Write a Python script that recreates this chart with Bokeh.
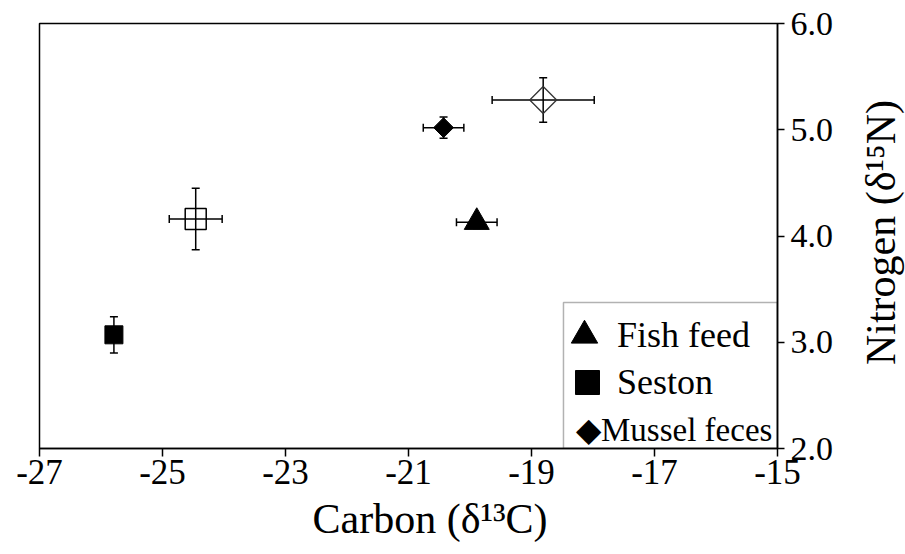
import numpy as np
from bokeh.plotting import figure
from bokeh.layouts import row
from bokeh.models import (ColumnDataSource, Range1d, FixedTicker, Whisker, TeeHead,
                          Legend, LegendItem, BoxAnnotation, Label, Title)
from bokeh.embed import file_html
from bokeh.resources import INLINE

# Stable isotope signatures: mean delta13C, mean delta15N and their SDs
feed_c, feed_n, feed_c_sd, feed_n_sd = [-19.89], [4.13], [0.33], [0.06]
seston_c, seston_n, seston_c_sd, seston_n_sd = [-25.79], [3.07], [0.08], [0.17]
feces_c, feces_n, feces_c_sd, feces_n_sd = [-20.43], [5.02], [0.33], [0.10]
open_sq_c, open_sq_n, open_sq_c_sd, open_sq_n_sd = [-24.46], [4.16], [0.43], [0.29]
open_dia_c, open_dia_n, open_dia_c_sd, open_dia_n_sd = [-18.81], [5.28], [0.83], [0.21]

x_ticks = [-27, -25, -23, -21, -19, -17, -15]
x_tick_labels = ["-27", "-25", "-23", "-21", "-19", "-17", "-15"]
y_ticks = [2, 3, 4, 5, 6]
y_tick_labels = ["2.0", "3.0", "4.0", "5.0", "6.0"]

x_title = "Carbon (δ¹³C)"
y_title = "Nitrogen (δ¹⁵N)"

FONT = "Liberation Serif"


def make_source(c, n, c_sd, n_sd):
    c, n, c_sd, n_sd = map(np.asarray, (c, n, c_sd, n_sd))
    return ColumnDataSource(dict(c=c, n=n, c_lo=c - c_sd, c_hi=c + c_sd,
                                 n_lo=n - n_sd, n_hi=n + n_sd))


p = figure(width=845, height=554, x_range=Range1d(-27, -15), y_range=Range1d(2, 6),
           y_axis_location="right", output_backend="svg", toolbar_location=None,
           min_border_left=39, min_border_right=68, min_border_top=23,
           min_border_bottom=106)
p.background_fill_color = "white"
p.border_fill_color = "white"
p.xgrid.visible = False
p.ygrid.visible = False
p.outline_line_color = "black"
p.outline_line_width = 1.5

for ax in (p.xaxis[0], p.yaxis[0]):
    ax.axis_line_width = 1.5
    ax.axis_line_color = "black"
    ax.major_tick_line_width = 1.5
    ax.major_tick_line_color = "black"
    ax.major_tick_in = 0
    ax.minor_tick_in = 0
    ax.minor_tick_out = 0
    ax.major_label_text_font = FONT
    ax.major_label_text_color = "black"

p.xaxis.ticker = FixedTicker(ticks=x_ticks)
p.xaxis.major_label_overrides = dict(zip(x_ticks, x_tick_labels))
p.xaxis.major_tick_out = 8
p.xaxis.major_label_standoff = 3
p.xaxis.major_label_text_font_size = "35px"

p.yaxis.ticker = FixedTicker(ticks=y_ticks)
p.yaxis.major_label_overrides = dict(zip(y_ticks, y_tick_labels))
p.yaxis.major_tick_out = 7
p.yaxis.major_label_standoff = 6
p.yaxis.major_label_text_font_size = "34px"

# x axis title, below the tick labels
p.add_layout(Title(text=x_title, align="left", offset=273, standoff=18,
                   vertical_align="top", text_font=FONT, text_font_size="42px",
                   text_font_style="normal", text_color="black"), "below")

groups = [
    (feed_c, feed_n, feed_c_sd, feed_n_sd),
    (seston_c, seston_n, seston_c_sd, seston_n_sd),
    (feces_c, feces_n, feces_c_sd, feces_n_sd),
    (open_sq_c, open_sq_n, open_sq_c_sd, open_sq_n_sd),
    (open_dia_c, open_dia_n, open_dia_c_sd, open_dia_n_sd),
]
src_feed, src_seston, src_feces, src_open_sq, src_open_dia = [make_source(*g) for g in groups]

# error bars (drawn underneath the markers)
for src in (src_feed, src_seston, src_feces, src_open_sq, src_open_dia):
    for base, lo, hi, dim in (("n", "c_lo", "c_hi", "width"), ("c", "n_lo", "n_hi", "height")):
        p.add_layout(Whisker(source=src, base=base, lower=lo, upper=hi, dimension=dim,
                             line_color="black", line_width=1.5,
                             lower_head=TeeHead(size=8, line_width=1.5, line_color="black"),
                             upper_head=TeeHead(size=8, line_width=1.5, line_color="black")))

r_feed = p.scatter("c", "n", source=src_feed, marker="triangle", size=25,
                   fill_color="black", line_color="black")
r_seston = p.scatter("c", "n", source=src_seston, marker="square", size=18,
                     fill_color="black", line_color="black")
r_feces = p.scatter("c", "n", source=src_feces, marker="square", angle=np.pi / 4, size=14,
                    fill_color="black", line_color="black")
p.scatter("c", "n", source=src_open_sq, marker="square", size=21,
          fill_color=None, line_color="black", line_width=1.5)
p.scatter("c", "n", source=src_open_dia, marker="square", angle=np.pi / 4, size=19,
          fill_color=None, line_color="#333333", line_width=1.3)

# legend frame
p.add_layout(BoxAnnotation(left=-18.48, right=-15, bottom=2, top=3.374,
                           fill_alpha=0, line_color="black", line_width=1.5))


def add_key(renderer, label, glyph_w, glyph_h, font_size, loc):
    lg = Legend(items=[LegendItem(label=label, renderers=[renderer])], location=loc,
                glyph_width=glyph_w, glyph_height=glyph_h, label_standoff=0,
                padding=0, margin=0, spacing=0, border_line_color=None,
                background_fill_alpha=0, label_text_font=FONT,
                label_text_font_size=font_size, label_text_color="black")
    p.add_layout(lg)


add_key(r_feed, "Fish feed", 66, 66, "36px", (512, 80))
add_key(r_seston, "Seston", 60, 60, "36px", (518, 36))
# the feces key is a diamond character written ahead of its label
add_key(r_feces, "◆Mussel feces", 0, 41, "33px", (537, -2))

# y axis title, reading upwards, in a narrow strip sharing the y range
side = figure(width=60, height=554, x_axis_type=None, y_axis_type=None,
              output_backend="svg", toolbar_location=None, min_border_left=0,
              min_border_right=0, min_border_top=23, min_border_bottom=106,
              x_range=Range1d(0, 60), y_range=p.y_range)
side.outline_line_color = None
side.background_fill_color = "white"
side.border_fill_color = "white"
side.add_layout(Label(x=35, y=4.033, angle=np.pi / 2, text=y_title, text_font=FONT,
                      text_font_size="42px", text_color="black", text_align="center",
                      text_baseline="alphabetic"))

layout = row(p, side, spacing=0)

open("out.html", "w").write(file_html(layout, INLINE))
